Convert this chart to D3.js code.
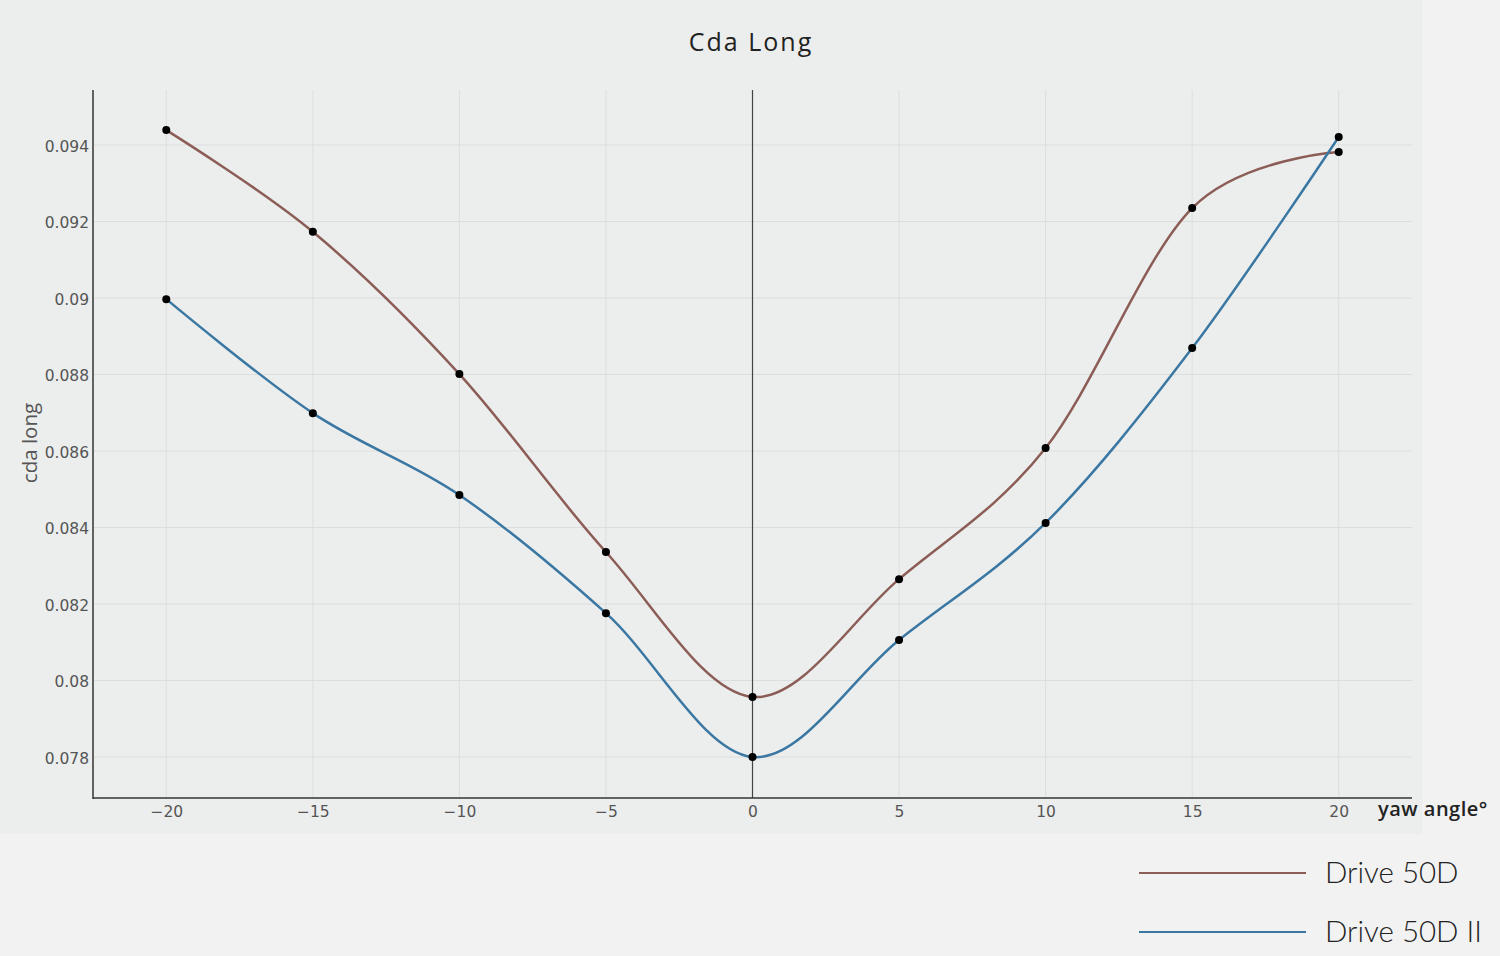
<!DOCTYPE html>
<html><head><meta charset="utf-8">
<script src="https://cdn.jsdelivr.net/npm/d3@7/dist/d3.min.js"></script>
<style>html,body{margin:0;padding:0;background:#f2f2f2;}svg{display:block;}</style>
</head><body>
<svg id="c" width="1500" height="956"></svg>
<script>
const yawAngles = [-20, -15, -10, -5, 0, 5, 10, 15, 20];
const drive50D = [0.09439, 0.09173, 0.08801, 0.08336, 0.07957, 0.08265, 0.08608, 0.09235, 0.09382];
const drive50DII = [0.08997, 0.08699, 0.08485, 0.08176, 0.07800, 0.08106, 0.08412, 0.08869, 0.09421];
const xTicks = [-20, -15, -10, -5, 0, 5, 10, 15, 20];
const yTicks = [0.078, 0.080, 0.082, 0.084, 0.086, 0.088, 0.090, 0.092, 0.094];
const seriesNames = ["Drive 50D", "Drive 50D II"];
const seriesColors = ["#8b5d56", "#3a77a2"];

const svg = d3.select("#c");
svg.append("rect").attr("x",0).attr("y",0).attr("width",1500).attr("height",956).attr("fill","#f2f2f2");
svg.append("rect").attr("x",0).attr("y",0).attr("width",1422).attr("height",834).attr("fill","#eceeed");

const x = d3.scaleLinear().domain([-22.5, 22.5]).range([93, 1412]);
const y = d3.scaleLinear().domain([0.078, 0.094]).range([757, 145]);
const pTop = 90, pBottom = 798, pLeft = 93, pRight = 1412;

// grid
const g = svg.append("g");
g.selectAll(".vg").data(xTicks.filter(d=>d!==0)).join("line")
  .attr("x1",d=>x(d)).attr("x2",d=>x(d)).attr("y1",pTop).attr("y2",pBottom)
  .attr("stroke","#dcdedd").attr("stroke-width",1);
g.selectAll(".hg").data(yTicks).join("line")
  .attr("x1",pLeft).attr("x2",pRight).attr("y1",d=>y(d)).attr("y2",d=>y(d))
  .attr("stroke","#dcdedd").attr("stroke-width",1);

// zero line
svg.append("line").attr("x1",x(0)).attr("x2",x(0)).attr("y1",pTop).attr("y2",pBottom)
  .attr("stroke","#444").attr("stroke-width",1.2);

// axes
const tickFont = "'DejaVu Sans', sans-serif";
const xAxis = d3.axisBottom(x).tickValues(xTicks).tickSize(0).tickPadding(8)
  .tickFormat(d => d < 0 ? "\u2212" + Math.abs(d) : String(d));
const xg = svg.append("g").attr("transform",`translate(0,${pBottom})`).call(xAxis);
xg.select(".domain").remove();
xg.selectAll("text").attr("font-family",tickFont).attr("font-size",15.5).attr("fill","#555");

const yAxis = d3.axisLeft(y).tickValues(yTicks).tickSize(0).tickPadding(4)
  .tickFormat(d => String(+d.toFixed(3)));
const yg = svg.append("g").attr("transform",`translate(${pLeft},0)`).call(yAxis);
yg.select(".domain").remove();
yg.selectAll("text").attr("font-family",tickFont).attr("font-size",15.5).attr("fill","#555").attr("dy","0.4em");

svg.append("line").attr("x1",pLeft).attr("x2",pLeft).attr("y1",pTop).attr("y2",pBottom+1).attr("stroke","#333").attr("stroke-width",1.5);
svg.append("line").attr("x1",pLeft).attr("x2",pRight).attr("y1",pBottom).attr("y2",pBottom).attr("stroke","#333").attr("stroke-width",1.5);

// lines
const line = d3.line().x(d=>x(d[0])).y(d=>y(d[1])).curve(d3.curveCardinal.tension(0));
[drive50D, drive50DII].forEach((vals,i)=>{
  const pts = yawAngles.map((a,j)=>[a, vals[j]]);
  svg.append("path").attr("d", line(pts)).attr("fill","none")
    .attr("stroke", seriesColors[i]).attr("stroke-width",2.5);
});
[drive50D, drive50DII].forEach((vals,i)=>{
  svg.append("g").selectAll("circle").data(yawAngles.map((a,j)=>[a, vals[j]])).join("circle")
    .attr("cx",d=>x(d[0])).attr("cy",d=>y(d[1])).attr("r",4).attr("fill","#000");
});

// titles
svg.append("text").attr("x",751).attr("y",51).attr("text-anchor","middle")
  .attr("font-family","'Open Sans', sans-serif").attr("font-size",25).attr("font-weight",500)
  .attr("letter-spacing",2).attr("fill","#222").text("Cda Long");
svg.append("text").attr("transform","translate(37,443) rotate(-90)").attr("text-anchor","middle")
  .attr("font-family","'Open Sans', sans-serif").attr("font-size",20.5).attr("fill","#555").text("cda long");
svg.append("text").attr("x",1378).attr("y",816)
  .attr("font-family","'Open Sans', sans-serif").attr("font-size",20).attr("font-weight",600)
  .attr("letter-spacing",0.5).attr("fill","#222").text("yaw angle°");

// legend
const legY = [873, 932];
seriesNames.forEach((n,i)=>{
  svg.append("line").attr("x1",1139).attr("x2",1306).attr("y1",legY[i]).attr("y2",legY[i])
    .attr("stroke",seriesColors[i]).attr("stroke-width",2);
  svg.append("text").attr("x",1325).attr("y",legY[i]+10)
    .attr("font-family","Lato, sans-serif").attr("font-size",29.5).attr("font-weight",300).attr("fill","#222").text(n);
});
</script>
</body></html>
